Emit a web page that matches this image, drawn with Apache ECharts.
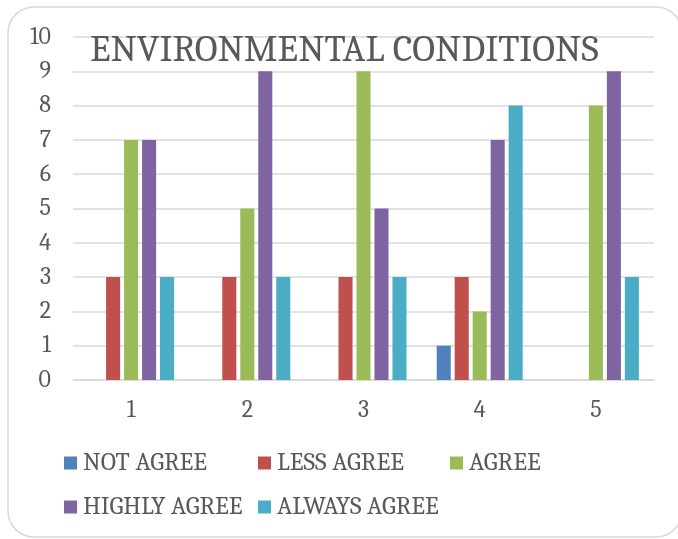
<!DOCTYPE html>
<html>
<head>
<meta charset="utf-8">
<script src="https://cdn.jsdelivr.net/npm/echarts@6/dist/echarts.min.js"></script>
<style>
  html, body { margin: 0; padding: 0; background: #fff; }
  #chart { width: 678px; height: 539px; }
</style>
</head>
<body>
<div id="chart"></div>
<script>
var categories = ['1', '2', '3', '4', '5'];
var seriesNames = ['NOT AGREE', 'LESS AGREE', 'AGREE', 'HIGHLY AGREE', 'ALWAYS AGREE'];
var notAgree = [0, 0, 0, 1, 0];
var lessAgree = [3, 3, 3, 3, 0];
var agree = [7, 5, 9, 2, 8];
var highlyAgree = [7, 9, 5, 7, 9];
var alwaysAgree = [3, 3, 3, 8, 3];
var colors = ['#4f81bd', '#c0504d', '#9bbb59', '#8064a2', '#4bacc6'];

var allValues = [notAgree, lessAgree, agree, highlyAgree, alwaysAgree];
var font = 'Cambria, "DejaVu Serif", serif';
var textColor = '#595959';

// legend laid out as a 3-column grid
var legendPos = [[64, 450], [258, 450], [450, 450], [64, 494], [258, 494]];
var legends = seriesNames.map(function (name, i) {
  return {
    data: [name],
    left: legendPos[i][0],
    top: legendPos[i][1],
    padding: 0,
    itemWidth: 13,
    itemHeight: 13,
    itemGap: 0,
    icon: 'rect',
    textStyle: { fontFamily: font, fontSize: 25.5, color: textColor, padding: [0, 0, 0, 1] }
  };
});

var chart = echarts.init(document.getElementById('chart'));
var option = {
  animation: false,
  graphic: [{
    type: 'rect',
    shape: { x: 8, y: 7, width: 674, height: 530, r: 26 },
    style: { fill: 'none', stroke: '#d9d9d9', lineWidth: 1.5 },
    z: -10
  }],
  title: {
    text: 'ENVIRONMENTAL CONDITIONS',
    left: 90,
    top: 31,
    padding: 0,
    textStyle: { fontFamily: font, fontSize: 38, fontWeight: 'normal', color: textColor }
  },
  legend: legends,
  grid: { left: 73, right: 24, top: 37, bottom: 159 },
  xAxis: {
    type: 'category',
    data: categories,
    axisLine: { lineStyle: { color: '#d9d9d9', width: 1.5 } },
    axisTick: { show: false },
    axisLabel: { fontFamily: font, fontSize: 24, color: textColor, margin: 18 }
  },
  yAxis: {
    type: 'value',
    min: 0,
    max: 10,
    interval: 1,
    axisLine: { show: false },
    axisTick: { show: false },
    splitLine: { lineStyle: { color: '#d9d9d9', width: 1.5 } },
    axisLabel: { fontFamily: font, fontSize: 24, color: textColor, margin: 22 }
  },
  series: seriesNames.map(function (name, i) {
    return {
      name: name,
      type: 'bar',
      data: allValues[i],
      barGap: '28%',
      barCategoryGap: '26%',
      itemStyle: { color: colors[i] }
    };
  })
};
chart.setOption(option);
</script>
</body>
</html>
